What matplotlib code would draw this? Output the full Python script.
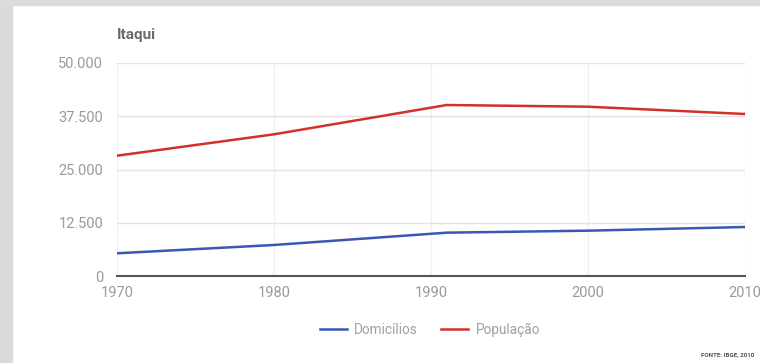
import matplotlib
matplotlib.use("Agg")
import matplotlib.pyplot as plt
from matplotlib.patches import Rectangle
from matplotlib.ticker import FuncFormatter

years_dom = [1970, 1980, 1991, 2000, 2010]
domicilios = [5330, 7280, 10170, 10640, 11500]
years_pop = [1970, 1980, 1991, 2000, 2010]
populacao = [28240, 33260, 40140, 39740, 38030]
y_ticks = [0, 12500, 25000, 37500, 50000]
x_ticks = [1970, 1980, 1990, 2000, 2010]

plt.rcParams['font.family'] = ['Roboto', 'DejaVu Sans']

fig = plt.figure(figsize=(7.6, 3.63), dpi=100)
fig.patch.set_facecolor('white')
# gray frame bands
fig.add_artist(Rectangle((0, 0), 12/760, 1, transform=fig.transFigure, color='#dadada', zorder=0))
fig.add_artist(Rectangle((0, 1-5/363), 1, 5/363, transform=fig.transFigure, color='#dcdcdc', zorder=0))

ax = fig.add_axes([117/760, 1-276/363, 628/760, 213/363])
ax.plot(years_dom, domicilios, color='#3b57b4', lw=1.8, label='Domicílios', zorder=3)
ax.plot(years_pop, populacao, color='#d2312a', lw=1.8, label='População', zorder=3)
ax.set_xlim(1970, 2010)
ax.set_ylim(0, 50000)
ax.set_xticks(x_ticks)
ax.set_yticks(y_ticks)
ax.yaxis.set_major_formatter(FuncFormatter(lambda v, p: f"{int(v):,}".replace(",", ".")))
ax.grid(True, color='#e2e2e2', lw=1)
ax.grid(True, axis='x', color='#f0f0f0', lw=1)
for s in ['top', 'right', 'left']:
    ax.spines[s].set_visible(False)
ax.spines['bottom'].set_color('#555555')
ax.spines['bottom'].set_linewidth(1.5)
ax.spines['bottom'].set_zorder(4)
ax.tick_params(length=0, labelsize=10.5, colors='#9a9a9a')
ax.tick_params(axis='y', pad=10)
ax.tick_params(axis='x', pad=7)
ax.set_axisbelow(True)

fig.text(117/760, 1-35/363, 'Itaqui', fontsize=11, fontweight='bold', color='#6a6a6a', va='center', ha='left')

leg = fig.legend(loc='center', bbox_to_anchor=(430/760, 1-330/363), ncol=2, frameon=False,
                 fontsize=9.8, handlelength=2.0, columnspacing=1.7, handletextpad=0.55)
for t in leg.get_texts():
    t.set_color('#a0a0a0')

fig.text(754/760, 1-355/363, 'FONTE: IBGE, 2010', fontsize=4.5, color='#555555', ha='right', va='center', fontweight='bold')

fig.savefig('out.png', dpi=100, facecolor='white')
